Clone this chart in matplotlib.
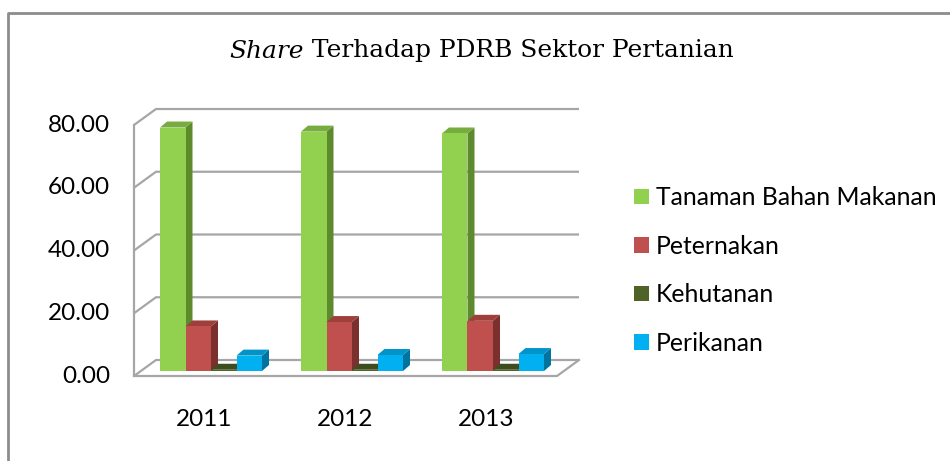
import numpy as np
import matplotlib.pyplot as plt
from matplotlib.patches import Polygon

# Data
years = ['2011', '2012', '2013']
sektor = ['Tanaman Bahan Makanan', 'Peternakan', 'Kehutanan', 'Perikanan']
tbm = [77.6, 76.3, 75.7]
peternakan = [14.2, 15.6, 16.0]
kehutanan = [0.4, 0.4, 0.4]
perikanan = [4.9, 5.1, 5.4]
yticks = [0, 20, 40, 60, 80]

series = [tbm, peternakan, kehutanan, perikanan]
front = ['#92D050', '#C0504D', '#4F6228', '#00B0F0']
side = ['#5E8A2E', '#7B302E', '#33401A', '#00749F']
top = ['#77AC3F', '#9E3F3C', '#3E4D1F', '#0094C9']

W, H = 950, 461
fig = plt.figure(figsize=(W / 100, H / 100), dpi=100)
fig.patch.set_facecolor('white')

# front plane of the 3d box in pixels
x0, x1, y0, y1 = 134, 557, 376, 125
ax = fig.add_axes([x0 / W, (H - y0) / H, (x1 - x0) / W, (y0 - y1) / H])
ax.set_xlim(0, 3)
ax.set_ylim(0, 80)
ax.axis('off')

sx = (x1 - x0) / 3.0
sy = (y0 - y1) / 80.0

# depth offsets (pixels -> data)
wdx, wdy = 22 / sx, 16 / sy     # walls
pdx, pdy = 6.5 / sx, 5 / sy      # bar plane
bdx, bdy = 7 / sx, 6 / sy        # bar depth

grid_c = '#A6A6A6'
lw = 1.6
for v in yticks:
    ax.plot([0, wdx, 3 + wdx], [v, v + wdy, v + wdy], color=grid_c, lw=lw,
            clip_on=False, zorder=1, solid_capstyle='butt')
ax.plot([0, 0], [0, 80], color=grid_c, lw=lw, clip_on=False, zorder=1)
ax.plot([0, 3, 3 + wdx], [0, 0, wdy], color=grid_c, lw=lw, clip_on=False, zorder=1)

# bars
bw = 25.5 / sx
xc = np.arange(3) + 0.5
z = 3
handles = []
for g in range(3):
    for k in range(4):
        v = series[k][g]
        left = xc[g] - 2 * bw + k * bw + pdx
        b = ax.bar(left, v, width=bw, bottom=pdy, align='edge', color=front[k],
                   zorder=z + 2, linewidth=0)
        if g == 0:
            handles.append(b[0])
        t = v + pdy
        ax.add_patch(Polygon([[left, t], [left + bw, t], [left + bw + bdx, t + bdy],
                              [left + bdx, t + bdy]], closed=True, color=top[k],
                             lw=0, zorder=z + 1, clip_on=False))
        ax.add_patch(Polygon([[left + bw, pdy], [left + bw + bdx, pdy + bdy],
                              [left + bw + bdx, t + bdy], [left + bw, t]], closed=True,
                             color=side[k], lw=0, zorder=z, clip_on=False))
        z += 3

# tick labels
font = 'Lato'
for v in yticks:
    ax.text(-24 / sx, v, f'{v:.2f}', ha='right', va='center', fontsize=17.5,
            family=font, color='black')
for i, yr in enumerate(years):
    ax.text(xc[i], -43 / sy, yr, ha='center', va='center', fontsize=17.5,
            family=font, color='black')

# title: italic "Share" followed by the rest
t1 = fig.text(229 / W, 1 - 51 / H, 'Share', fontsize=17.9, family='DejaVu Serif',
              style='italic', va='center', ha='left')
ax.annotate(' Terhadap PDRB Sektor Pertanian', xy=(1, 0), xycoords=t1,
            va='bottom', ha='left', fontsize=17.9, family='DejaVu Serif',
            annotation_clip=False)

# legend
leg = fig.legend(handles, sektor, loc='upper left',
                 bbox_to_anchor=(612 / W, 1 - 164 / H), frameon=False,
                 prop={'family': font, 'size': 17.8}, handlelength=0.6,
                 handleheight=0.6, handletextpad=0.28, labelspacing=1.03)

# outer border (top and left)
fig.add_artist(plt.Line2D([8 / W, 8 / W, 1], [0, 1 - 13 / H, 1 - 13 / H],
                          color='#8C8C8C', lw=2, transform=fig.transFigure))

fig.savefig('out.png', dpi=100)
